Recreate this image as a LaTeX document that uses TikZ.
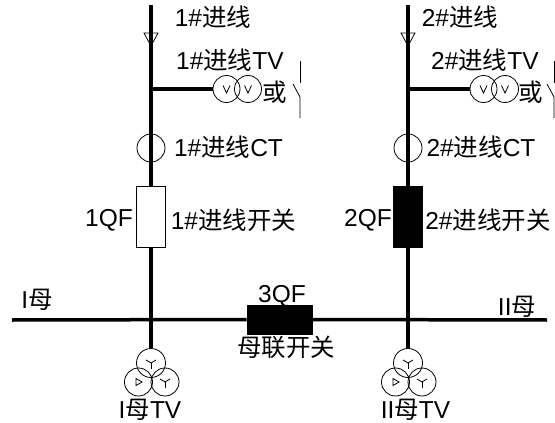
\documentclass[tikz,border=0pt]{standalone}
\usepackage{fontspec}
\setmainfont{Liberation Sans}
\newfontfamily\cjk{Noto Sans CJK SC}
\newcommand{\cj}[1]{{\cjk #1}}
\begin{document}
\begin{tikzpicture}[x=1pt,y=-1pt,
    busline/.style={line width=3.5pt},
    thinline/.style={line width=0.8pt},
    coil/.style={circle,draw,line width=0.8pt,inner sep=0pt},
    breaker/.style={rectangle,draw,line width=0.8pt,inner sep=0pt},
    lbl/.style={inner sep=0pt,font=\fontsize{24.5}{24.5}\selectfont}]
    \useasboundingbox (0,0) rectangle (555,423);

    % incoming feeders
    \foreach \n/\x/\boxcolor/\sw in {1/151/white/300, 2/408/black/554}{
        \coordinate (in\n) at (\x,5);
        \coordinate (tap\n) at (\x,89);
        \node[breaker,fill=\boxcolor,minimum width=29pt,minimum height=61pt] (qf\n) at (\x,216.5) {};
        \node[coil,minimum size=28pt] (ct\n) at (\x,148) {};
        \node[coil,minimum size=27pt] (tvA\n) at (\x+75.5,89) {};
        \node[coil,minimum size=27pt] (tvB\n) at (\x+97,89) {};
        \node[coil,minimum size=29pt] (ptT\n) at (\x,363) {};
        \node[coil,minimum size=28pt] (ptL\n) at (\x-12.5,382) {};
        \node[coil,minimum size=28pt] (ptR\n) at (\x+14,382) {};

        \draw[busline] (in\n) -- (qf\n.north);
        \draw[busline] (qf\n.south) -- (ptT\n.north);
        \draw[busline] (tap\n) -- (tvA\n.west);

        % direction mark on the line
        \draw[thinline] (\x-7,33) -- (\x+7,33) -- (\x,46) -- cycle;

        % the V marks
        \foreach \c in {tvA\n,tvB\n}
            \draw[thinline] ([shift={(-3.5pt,3.5pt)}]\c.center) -- ([shift={(0pt,-4pt)}]\c.center) -- ([shift={(3.5pt,3.5pt)}]\c.center);

        % the star marks
        \foreach \c in {ptT\n,ptR\n}{
            \draw[thinline] ([shift={(-5pt,3pt)}]\c.center) -- (\c.center) -- ([shift={(5pt,3pt)}]\c.center);
            \draw[thinline] (\c.center) -- ([shift={(0pt,-6pt)}]\c.center);
        }
        \draw[thinline] ([shift={(-2.5pt,-3.5pt)}]ptL\n.center) -- ([shift={(-2.5pt,3.5pt)}]ptL\n.center) -- ([shift={(3.5pt,0pt)}]ptL\n.center) -- cycle;

        % the open contact
        \draw[thinline] (\sw,61) -- (\sw,83);
        \draw[thinline] (\sw-7,84) -- (\sw,97) -- (\sw,118);
    }

    % bus
    \coordinate (busL) at (12,320);
    \coordinate (busR) at (547,320);
    \node[breaker,fill=black,minimum width=65pt,minimum height=29pt] (qf3) at (279.5,319.5) {};
    \draw[busline] (busL) -- (qf3.west);
    \draw[busline] (qf3.east) -- (busR);

    % labels
    \foreach \name/\x/\y/\txt in {
        a/213/17/1\#\cj{进线},
        b/230/60/1\#\cj{进线}TV,
        c/275/92/\cj{或},
        d/228.5/147/1\#\cj{进线}CT,
        e/109/220/1QF,
        f/233.5/220/1\#\cj{进线开关},
        g/460/17/2\#\cj{进线},
        h/485/60/2\#\cj{进线}TV,
        i/531/92/\cj{或},
        j/481/147/2\#\cj{进线}CT,
        k/368/220/2QF,
        l/488/220/2\#\cj{进线开关},
        m/37/300/I\cj{母},
        n/517/307/II\cj{母},
        o/282/296/3QF,
        p/286/347/\cj{母联开关},
        q/150/410/I\cj{母}TV,
        r/415.5/410/II\cj{母}TV}
        \node[lbl] (\name) at (\x,\y) {\txt};
\end{tikzpicture}
\end{document}
